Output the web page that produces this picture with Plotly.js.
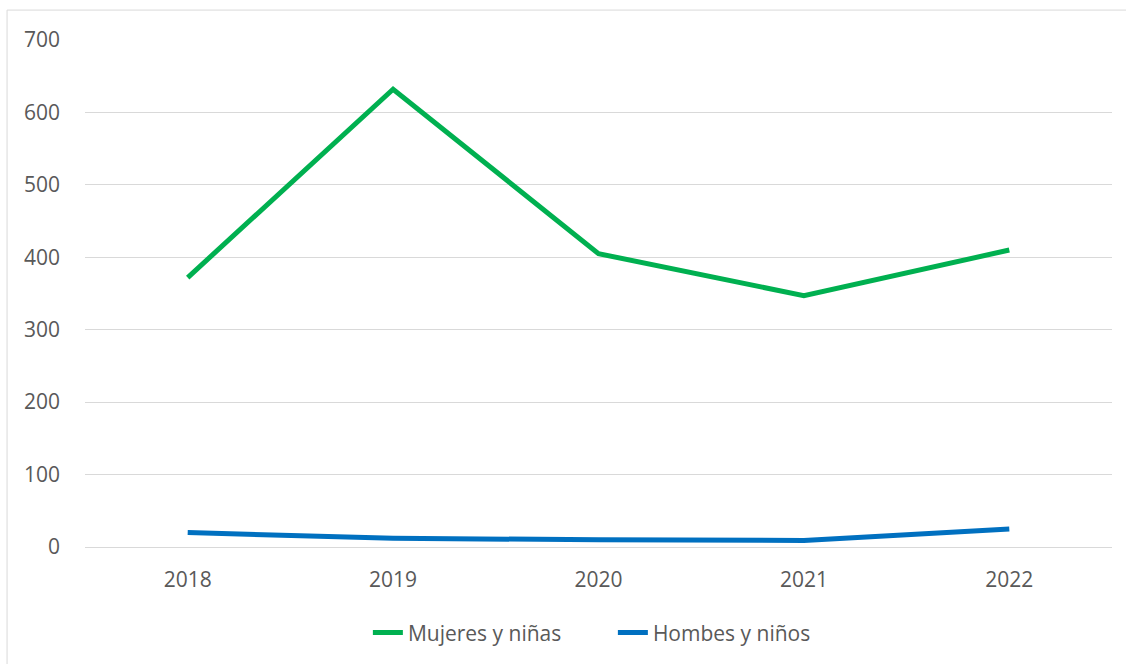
<!DOCTYPE html>
<html>
<head>
<meta charset="utf-8">
<script src="https://cdn.plot.ly/plotly-3.0.1.min.js"></script>
<style>html,body{margin:0;padding:0;background:#fff;}#chart{width:1126px;height:664px;}</style>
</head>
<body>
<div id="chart"></div>
<script>
const years = ["2018", "2019", "2020", "2021", "2022"];
const mujeresNinas = [372, 632, 405, 347, 410];
const hombresNinos = [20, 12, 10, 9, 25];
const seriesNames = ["Mujeres y niñas", "Hombes y niños"];

const traces = [
  {x: years, y: mujeresNinas, name: seriesNames[0], type: "scatter", mode: "lines",
   line: {color: "#00B050", width: 5}},
  {x: years, y: hombresNinos, name: seriesNames[1], type: "scatter", mode: "lines",
   line: {color: "#0070C0", width: 5}}
];

const layout = {
  width: 1126, height: 664,
  margin: {l: 85, r: 14, t: 40, b: 116},
  paper_bgcolor: "#fff", plot_bgcolor: "#fff",
  font: {family: "Open Sans, sans-serif", size: 21, color: "#595959"},
  showlegend: true,
  legend: {orientation: "h", x: 0.514, xanchor: "center", y: -0.167, yanchor: "middle",
           entrywidth: 200, entrywidthmode: "pixels",
           font: {size: 21, color: "#595959"}},
  xaxis: {type: "category", range: [-0.5, 4.5], showgrid: false, zeroline: false,
          showline: false, ticks: "", ticklabelstandoff: 18, fixedrange: true},
  yaxis: {range: [0, 700], dtick: 100, showgrid: true, gridcolor: "#d9d9d9", gridwidth: 1,
          zeroline: true, zerolinecolor: "#d9d9d9", zerolinewidth: 1, showline: false, ticks: "",
          ticklabelstandoff: 24, fixedrange: true},
  shapes: [{type: "rect", xref: "paper", yref: "paper", x0: -0.0759, x1: 1.03, y0: -0.3, y1: 1.059,
            line: {color: "#d9d9d9", width: 1}, fillcolor: "rgba(0,0,0,0)", layer: "below"}]
};

Plotly.newPlot("chart", traces, layout, {displayModeBar: false, staticPlot: true});
</script>
</body>
</html>
